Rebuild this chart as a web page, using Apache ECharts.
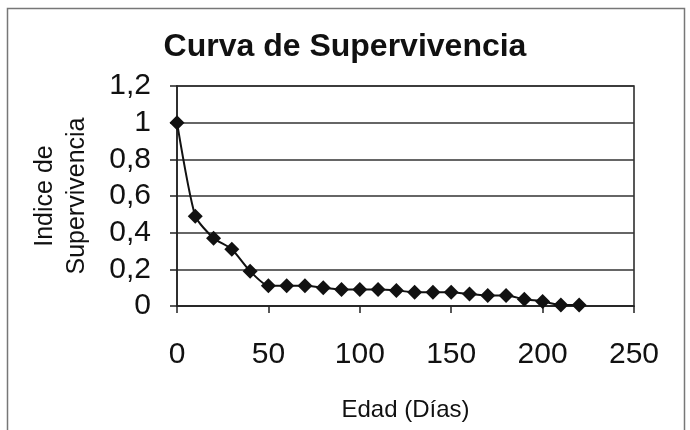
<!DOCTYPE html>
<html>
<head>
<meta charset="utf-8">
<script src="https://cdn.jsdelivr.net/npm/echarts@6/dist/echarts.min.js"></script>
<style>
  html, body { margin: 0; padding: 0; background: #fff; }
  #chart { width: 690px; height: 430px; }
</style>
</head>
<body>
<div id="chart"></div>
<script>
// edad (días) y su índice de supervivencia
const edades = [0, 10, 20, 30, 40, 50, 60, 70, 80, 90, 100, 110, 120, 130, 140, 150, 160, 170, 180, 190, 200, 210, 220];
const indice = [1, 0.49, 0.37, 0.31, 0.19, 0.11, 0.11, 0.11, 0.10, 0.09, 0.09, 0.09, 0.085, 0.075, 0.075, 0.075, 0.065, 0.057, 0.057, 0.037, 0.025, 0.006, 0.006];

const font = '"Liberation Sans", Arial, sans-serif';
const chart = echarts.init(document.getElementById('chart'), null, { renderer: 'canvas' });
chart.setOption({
  backgroundColor: '#fff',
  animation: false,
  textStyle: { fontFamily: font },
  graphic: [{
    type: 'rect', shape: { x: 7.5, y: 8.5, width: 677, height: 440 },
    style: { fill: 'none', stroke: '#777', lineWidth: 1.5 }, silent: true
  }],
  title: {
    text: 'Curva de Supervivencia', left: 'center', top: 26,
    textStyle: { fontFamily: font, fontSize: 32, fontWeight: 'bold', color: '#111' }
  },
  grid: { left: 177, right: 56, top: 86, bottom: 124, show: true, borderColor: '#222', borderWidth: 1.5 },
  xAxis: {
    type: 'value', min: 0, max: 250, interval: 50,
    name: 'Edad (Días)', nameLocation: 'middle', nameGap: 92,
    nameTextStyle: { fontFamily: font, fontSize: 24, color: '#111' },
    axisLine: { show: true, lineStyle: { color: '#222', width: 1.5 } },
    axisTick: { show: true, length: 7, lineStyle: { color: '#222', width: 1.5 } },
    axisLabel: { fontFamily: font, fontSize: 30, color: '#111', margin: 34 },
    splitLine: { show: false }
  },
  yAxis: {
    type: 'value', min: 0, max: 1.2, interval: 0.2,
    name: 'Indice de\nSupervivencia', nameLocation: 'middle', nameGap: 84,
    nameTextStyle: { fontFamily: font, fontSize: 25, color: '#111', lineHeight: 32 },
    axisLine: { show: true, lineStyle: { color: '#222', width: 1.5 } },
    axisTick: { show: true, length: 7, lineStyle: { color: '#222', width: 1.5 } },
    axisLabel: {
      fontFamily: font, fontSize: 30, color: '#111', margin: 26,
      formatter: v => String(Math.round(v * 10) / 10).replace('.', ',')
    },
    splitLine: { show: true, lineStyle: { color: '#333', width: 1.5 } }
  },
  series: [{
    type: 'line', data: edades.map((x, i) => [x, indice[i]]),
    smooth: 0.2, symbol: 'diamond', symbolSize: 15,
    lineStyle: { color: '#111', width: 2 }, itemStyle: { color: '#111' }
  }]
});
</script>
</body>
</html>
